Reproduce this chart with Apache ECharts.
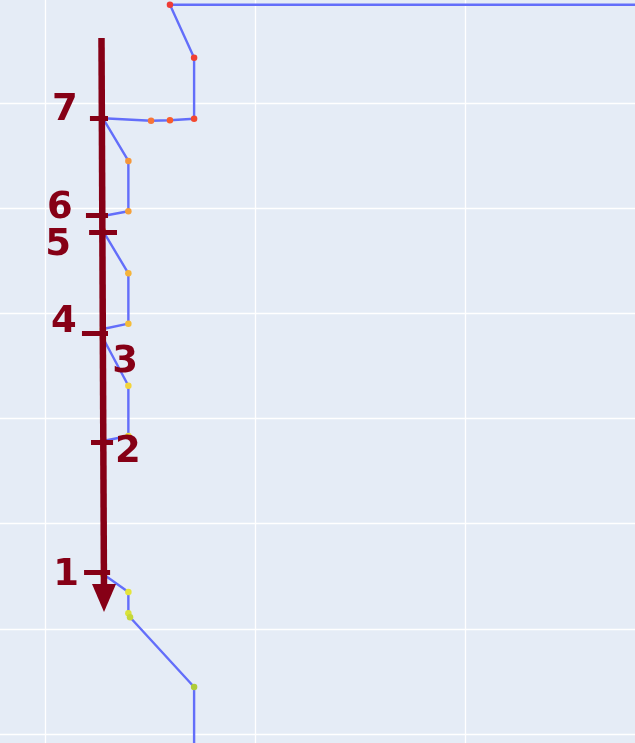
<!DOCTYPE html>
<html>
<head>
<meta charset="utf-8">
<script src="https://cdn.jsdelivr.net/npm/echarts@6/dist/echarts.min.js"></script>
<style>
html,body{margin:0;padding:0;background:#E5ECF6;}
#chart{width:635px;height:743px;}
</style>
</head>
<body>
<div id="chart"></div>
<script>
// ---- data ----
var pathX = [4.0, 1.595, 1.710, 1.710, 1.595, 1.505, 1.276, 1.397, 1.397, 1.276, 1.276, 1.397, 1.397, 1.276, 1.276, 1.397, 1.397, 1.276, 1.276, 1.397, 1.397, 1.405, 1.710, 1.710];
var pathY = [7.936, 7.936, 7.432, 6.852, 6.837, 6.833, 6.856, 6.450, 5.971, 5.926, 5.784, 5.381, 4.902, 4.851, 4.766, 4.312, 3.834, 3.786, 2.521, 2.350, 2.147, 2.109, 1.446, 0.75];

var stepLabels = ['7', '6', '5', '4', '3', '2', '1'];
var stepLabelX = [1.095, 1.071, 1.062, 1.090, 1.381, 1.395, 1.100];
var stepLabelY = [6.935, 6.002, 5.650, 4.918, 4.537, 3.681, 2.511];

var tickX1 = [1.214, 1.195, 1.210, 1.176, 1.219, 1.186];
var tickX2 = [1.300, 1.300, 1.343, 1.300, 1.324, 1.310];
var tickY  = [6.856, 5.936, 5.774, 4.813, 3.776, 2.540];

var arrowStart = [1.269, 7.620];
var arrowEnd = [1.281, 2.293];

var xTicks = [0, 1, 2, 3, 4];
var yTicks = [0, 1, 2, 3, 4, 5, 6, 7, 8];

// ---- styles ----
var ANNO = '#860016';
var colorStops = [
  [0.00, [176, 204, 58]],
  [0.10, [220, 228, 58]],
  [0.16, [232, 230, 58]],
  [0.30, [242, 218, 58]],
  [0.45, [245, 192, 58]],
  [0.55, [245, 176, 58]],
  [0.70, [245, 156, 58]],
  [0.80, [246, 122, 58]],
  [0.86, [250, 90, 40]],
  [0.92, [240, 66, 50]],
  [1.00, [239, 59, 54]]
];
function colorAt(t) {
  for (var k = 1; k < colorStops.length; k++) {
    if (t <= colorStops[k][0]) {
      var a = colorStops[k - 1], b = colorStops[k];
      var f = (t - a[0]) / (b[0] - a[0]);
      var c = [0, 1, 2].map(function (j) { return Math.round(a[1][j] + (b[1][j] - a[1][j]) * f); });
      return 'rgb(' + c.join(',') + ')';
    }
  }
  return 'rgb(239,59,54)';
}

var n = pathX.length;
var lineData = pathX.map(function (x, i) {
  var t = 1 - (i - 1) / (n - 3);
  if (t > 1) t = 1; if (t < 0) t = 0;
  return { value: [x, pathY[i]], itemStyle: { color: colorAt(t) } };
});

var tickLines = tickY.map(function (y, i) {
  return [{ coord: [tickX1[i], y] }, { coord: [tickX2[i], y] }];
});

var labelPoints = stepLabels.map(function (s, i) {
  return { coord: [stepLabelX[i], stepLabelY[i]], value: s };
});

var chart = echarts.init(document.getElementById('chart'), null, { renderer: 'canvas' });
chart.setOption({
  backgroundColor: '#E5ECF6',
  animation: false,
  grid: { left: -165, right: -40, top: -2, bottom: -96, containLabel: false, outerBoundsMode: 'none', show: false },
  xAxis: {
    type: 'value', min: xTicks[0], max: xTicks[xTicks.length - 1], interval: 1,
    axisLine: { show: false }, axisTick: { show: false }, axisLabel: { show: false },
    splitLine: { show: true, lineStyle: { color: '#ffffff', width: 1.3 } }
  },
  yAxis: {
    type: 'value', min: yTicks[0], max: yTicks[yTicks.length - 1], interval: 1,
    axisLine: { show: false }, axisTick: { show: false }, axisLabel: { show: false },
    splitLine: { show: true, lineStyle: { color: '#ffffff', width: 1.3 } }
  },
  series: [
    {
      type: 'line',
      data: lineData,
      symbol: 'circle',
      symbolSize: 6.5,
      showAllSymbol: true,
      lineStyle: { color: '#636EFA', width: 2.4 },
      z: 2,
      silent: true
    },
    {
      type: 'line',
      data: [],
      z: 5,
      silent: true,
      markLine: {
        silent: true,
        animation: false,
        symbol: ['none', 'none'],
        label: { show: false },
        emphasis: { disabled: true },
        lineStyle: { color: ANNO, width: 5, type: 'solid' },
        data: tickLines.concat([
          [
            { coord: arrowStart, symbol: 'none', lineStyle: { width: 6.5, color: ANNO } },
            { coord: arrowEnd, symbol: 'triangle', symbolSize: [24, 28], symbolRotate: 180, lineStyle: { width: 6.5, color: ANNO } }
          ]
        ])
      },
      markPoint: {
        silent: true,
        animation: false,
        symbol: 'circle',
        symbolSize: 0,
        label: {
          show: true,
          position: 'inside',
          color: ANNO,
          fontSize: 37,
          fontWeight: 'bold',
          fontFamily: 'DejaVu Sans',
          formatter: function (p) { return p.value; }
        },
        data: labelPoints
      }
    }
  ]
});
</script>
</body>
</html>
